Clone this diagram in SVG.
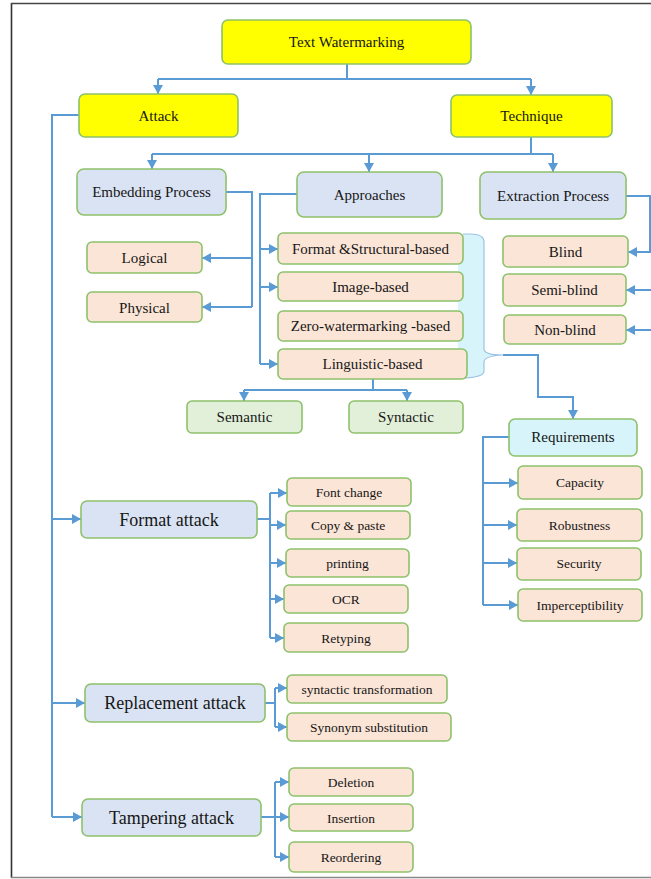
<svg xmlns="http://www.w3.org/2000/svg" width="651" height="879" viewBox="0 0 651 879">
<style>
.b{stroke:#8EC16B;stroke-width:1.6}
.y{fill:#FFFF00}.bl{fill:#DAE3F3}.pe{fill:#FBE5D6}.gr{fill:#E2F0D9}.cy{fill:#D6F4F9}
text{font-family:"Liberation Serif","Times New Roman",serif;fill:#161616;text-anchor:middle}
.t15{font-size:15px}.t14{font-size:13.5px}.t18{font-size:18px}
.c{fill:none;stroke:#5B9BD5;stroke-width:2}
.ca{fill:none;stroke:#5B9BD5;stroke-width:2;marker-end:url(#ah)}
</style>
<defs>
<marker id="ah" markerUnits="userSpaceOnUse" markerWidth="9" markerHeight="10" refX="9" refY="5" orient="auto">
<path d="M0,0 L9,5 L0,10 z" fill="#5B9BD5"/>
</marker>
</defs>
<rect x="0" y="0" width="651" height="879" fill="#fff"/>
<g id="frame">
<line x1="11.5" y1="3" x2="11.5" y2="878" stroke="#333" stroke-width="1.6"/>
<line x1="11" y1="3.5" x2="651" y2="3.5" stroke="#444" stroke-width="1.4"/>
<line x1="11" y1="877.5" x2="651" y2="877.5" stroke="#888" stroke-width="1.4"/>
</g>
<g id="brace">
<path d="M458,234 L470,234 Q484,234 484,242 L484,349 Q484,355 503,355 Q484,356 484,362 L484,371 Q484,377 465,378 L458,378 Z" fill="#D6F4F9"/>
<path d="M463,234 L470,234 Q484,234 484,242 L484,349 Q484,355 503,355 Q484,356 484,362 L484,371 Q484,377 465,378" fill="none" stroke="#9DC3E6" stroke-width="1.2"/>
</g>
<g id="connectors">
<path class="c" d="M347,64 V79 M158,79 H531"/>
<path class="ca" d="M158,79 V94"/>
<path class="ca" d="M531,79 V95"/>
<path class="c" d="M79,115 H52 V817"/>
<path class="ca" d="M52,519 H81"/>
<path class="ca" d="M52,703 H85"/>
<path class="ca" d="M52,817 H82"/>
<path class="c" d="M531,137 V154 M152,154 H553"/>
<path class="ca" d="M152,154 V169"/>
<path class="ca" d="M369,154 V172"/>
<path class="ca" d="M553,154 V172"/>
<path class="c" d="M226,192 H252 V307"/>
<path class="ca" d="M252,258 H202"/>
<path class="ca" d="M252,307 H202"/>
<path class="c" d="M297,194 H260 V364"/>
<path class="ca" d="M260,249 H278"/>
<path class="ca" d="M260,287 H278"/>
<path class="ca" d="M260,364 H278"/>
<path class="ca" d="M626,196 H650 V252 H628"/>
<path class="ca" d="M652,290 H626"/>
<path class="ca" d="M652,330 H626"/>
<path class="c" d="M373,379 V390 M244,390 H407"/>
<path class="ca" d="M244,390 V401"/>
<path class="ca" d="M407,390 V401"/>
<path class="ca" d="M503,355 H538 V397 H573 V419"/>
<path class="c" d="M509,437 H483 V605"/>
<path class="ca" d="M483,483 H518"/>
<path class="ca" d="M483,525 H517"/>
<path class="ca" d="M483,563 H517"/>
<path class="ca" d="M483,605 H518"/>
<path class="c" d="M257,519 H270 M270,493 V638"/>
<path class="ca" d="M270,493 H287"/>
<path class="ca" d="M270,525 H286"/>
<path class="ca" d="M270,563 H286"/>
<path class="ca" d="M270,599 H284"/>
<path class="ca" d="M270,638 H284"/>
<path class="c" d="M265,703 H275 M275,688 V727"/>
<path class="ca" d="M275,688 H287"/>
<path class="ca" d="M275,727 H287"/>
<path class="c" d="M261,817 H275 M275,782 V857"/>
<path class="ca" d="M275,782 H289"/>
<path class="ca" d="M275,817 H289"/>
<path class="ca" d="M275,857 H289"/>
</g>
<g id="n-text-watermarking"><rect class="b y" x="222" y="20" width="249" height="44" rx="6"/><text class="t15" x="346.5" y="47">Text Watermarking</text></g>
<g id="n-attack"><rect class="b y" x="79" y="94" width="159" height="43" rx="6"/><text class="t15" x="158.5" y="120.5">Attack</text></g>
<g id="n-technique"><rect class="b y" x="451" y="95" width="161" height="42" rx="6"/><text class="t15" x="531.5" y="121">Technique</text></g>
<g id="n-embedding"><rect class="b bl" x="77" y="169" width="149" height="46" rx="7"/><text class="t15" x="151.5" y="197">Embedding Process</text></g>
<g id="n-approaches"><rect class="b bl" x="297" y="172" width="145" height="45" rx="7"/><text class="t15" x="369.5" y="200">Approaches</text></g>
<g id="n-extraction"><rect class="b bl" x="480" y="172" width="146" height="47" rx="7"/><text class="t15" x="553" y="201">Extraction Process</text></g>
<g id="n-logical"><rect class="b pe" x="87" y="242" width="115" height="31" rx="5"/><text class="t15" x="144.5" y="263">Logical</text></g>
<g id="n-physical"><rect class="b pe" x="87" y="292" width="115" height="30" rx="5"/><text class="t15" x="144.5" y="312.5">Physical</text></g>
<g id="n-format-structural"><rect class="b pe" x="278" y="233" width="185" height="31" rx="5"/><text class="t15" x="370.5" y="254">Format &amp;Structural-based</text></g>
<g id="n-image"><rect class="b pe" x="278" y="272" width="185" height="29" rx="5"/><text class="t15" x="370.5" y="292">Image-based</text></g>
<g id="n-zero"><rect class="b pe" x="278" y="311" width="185" height="30" rx="5"/><text class="t15" x="370.5" y="331">Zero-watermarking -based</text></g>
<g id="n-linguistic"><rect class="b pe" x="278" y="349" width="189" height="30" rx="5"/><text class="t15" x="372.5" y="369">Linguistic-based</text></g>
<g id="n-blind"><rect class="b pe" x="503" y="236" width="125" height="31" rx="5"/><text class="t15" x="565.5" y="257">Blind</text></g>
<g id="n-semi-blind"><rect class="b pe" x="503" y="274" width="123" height="32" rx="5"/><text class="t15" x="564.5" y="295">Semi-blind</text></g>
<g id="n-non-blind"><rect class="b pe" x="504" y="315" width="122" height="29" rx="5"/><text class="t15" x="565" y="335">Non-blind</text></g>
<g id="n-semantic"><rect class="b gr" x="187" y="401" width="115" height="32" rx="5"/><text class="t15" x="244.5" y="422">Semantic</text></g>
<g id="n-syntactic"><rect class="b gr" x="349" y="401" width="114" height="32" rx="5"/><text class="t15" x="406" y="422">Syntactic</text></g>
<g id="n-requirements"><rect class="b cy" x="509" y="419" width="128" height="37" rx="6"/><text class="t15" x="573" y="442">Requirements</text></g>
<g id="n-capacity"><rect class="b pe" x="518" y="466" width="124" height="33" rx="5"/><text class="t14" x="580" y="487">Capacity</text></g>
<g id="n-robustness"><rect class="b pe" x="517" y="509" width="125" height="32" rx="5"/><text class="t14" x="579.5" y="529.5">Robustness</text></g>
<g id="n-security"><rect class="b pe" x="517" y="548" width="124" height="32" rx="5"/><text class="t14" x="579" y="568">Security</text></g>
<g id="n-imperceptibility"><rect class="b pe" x="518" y="589" width="124" height="32" rx="5"/><text class="t14" x="580" y="609.5">Imperceptibility</text></g>
<g id="n-format-attack"><rect class="b bl" x="81" y="501" width="176" height="37" rx="6"/><text class="t18" x="169" y="525.5">Format attack</text></g>
<g id="n-font-change"><rect class="b pe" x="287" y="478" width="124" height="28" rx="5"/><text class="t14" x="349" y="497">Font change</text></g>
<g id="n-copy-paste"><rect class="b pe" x="286" y="511" width="124" height="28" rx="5"/><text class="t14" x="348" y="530">Copy &amp; paste</text></g>
<g id="n-printing"><rect class="b pe" x="286" y="549" width="123" height="28" rx="5"/><text class="t14" x="347.5" y="568">printing</text></g>
<g id="n-ocr"><rect class="b pe" x="284" y="585" width="124" height="28" rx="5"/><text class="t14" x="346" y="604">OCR</text></g>
<g id="n-retyping"><rect class="b pe" x="284" y="623" width="124" height="29" rx="5"/><text class="t14" x="346" y="642.5">Retyping</text></g>
<g id="n-replacement-attack"><rect class="b bl" x="85" y="684" width="180" height="38" rx="6"/><text class="t18" x="175" y="709">Replacement attack</text></g>
<g id="n-syntactic-transformation"><rect class="b pe" x="287" y="675" width="160" height="28" rx="5"/><text class="t14" x="367" y="694">syntactic transformation</text></g>
<g id="n-synonym-substitution"><rect class="b pe" x="287" y="713" width="164" height="28" rx="5"/><text class="t14" x="369" y="732">Synonym substitution</text></g>
<g id="n-tampering-attack"><rect class="b bl" x="82" y="799" width="179" height="37" rx="6"/><text class="t18" x="171.5" y="823.5">Tampering attack</text></g>
<g id="n-deletion"><rect class="b pe" x="289" y="768" width="124" height="28" rx="5"/><text class="t14" x="351" y="787">Deletion</text></g>
<g id="n-insertion"><rect class="b pe" x="289" y="804" width="124" height="27" rx="5"/><text class="t14" x="351" y="822.5">Insertion</text></g>
<g id="n-reordering"><rect class="b pe" x="289" y="842" width="124" height="30" rx="5"/><text class="t14" x="351" y="862">Reordering</text></g>
</svg>
